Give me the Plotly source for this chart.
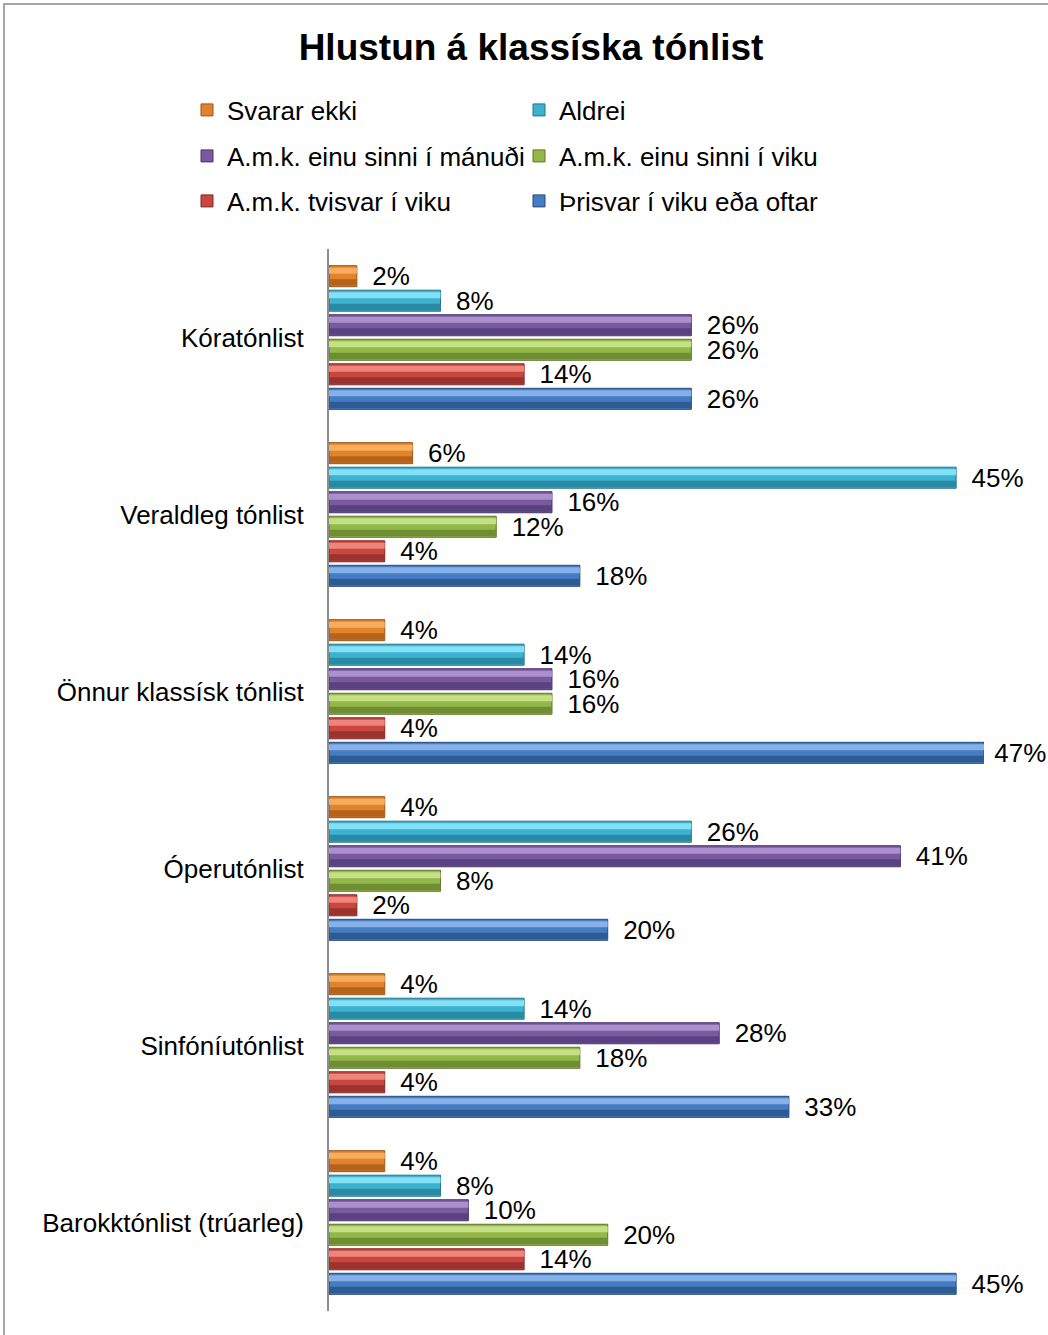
import plotly.graph_objects as go

categories = ["Kóratónlist", "Veraldleg tónlist", "Önnur klassísk tónlist",
              "Óperutónlist", "Sinfóníutónlist", "Barokktónlist (trúarleg)"]
series_names = ["Svarar ekki", "Aldrei", "A.m.k. einu sinni í mánuði",
                "A.m.k. einu sinni í viku", "A.m.k. tvisvar í viku", "Þrisvar í viku eða oftar"]
svarar_ekki = [2, 6, 4, 4, 4, 4]
aldrei = [8, 45, 14, 26, 14, 8]
manudi = [26, 16, 16, 41, 28, 10]
viku = [26, 12, 16, 8, 18, 20]
tvisvar = [14, 4, 4, 2, 4, 14]
thrisvar = [26, 18, 47, 20, 33, 45]
values = [svarar_ekki, aldrei, manudi, viku, tvisvar, thrisvar]

base_colors = ["#E2822A", "#3DB2D0", "#7A5A9E", "#93B84A", "#C9473F", "#467DC2"]
light_colors = ["#F6AE5E", "#84E0F5", "#AC90CE", "#C4DF84", "#EE857C", "#86B0E8"]
dark_colors = ["#B4631C", "#2A8AA3", "#5A4180", "#6F8D33", "#9A322D", "#2E5B94"]
line_colors = ["#9A5518", "#237589", "#48346A", "#5B752A", "#7E2925", "#254B7C"]
legend_ids = ["legend", "legend", "legend2", "legend2", "legend3", "legend3"]

FONT = "Liberation Sans, Arial, sans-serif"
band_px = 176.8
pitch = 24.5 / band_px
bw = 21.0 / band_px
start = -3 * pitch + (pitch - bw) / 2
x_max = 47

def label(v):
    # labels sit ~15px past the bar end; the longest bar's label is tucked in to fit
    pad = "\u00a0" if v >= x_max else "\u00a0\u2009"
    return f"{pad}{v}%"

fig = go.Figure()
for i, (name, vals) in enumerate(zip(series_names, values)):
    off = start + i * pitch
    fig.add_trace(go.Bar(
        y=categories, x=vals, orientation="h", name=name,
        offset=off, width=bw,
        marker=dict(color=base_colors[i], line=dict(color=line_colors[i], width=1)),
        text=[label(v) for v in vals], texttemplate="%{text}", textposition="outside",
        constraintext="none", cliponaxis=False,
        textfont=dict(family=FONT, size=26, color="#000000"),
        legend=legend_ids[i], showlegend=True,
    ))
    # bevel highlight (top) and shade (bottom) drawn from the same data
    fig.add_trace(go.Bar(
        y=categories, x=vals, orientation="h", name=name,
        offset=off + 2.0 / band_px, width=6.0 / band_px,
        marker=dict(color=light_colors[i], line=dict(width=0)),
        showlegend=False, hoverinfo="skip",
    ))
    fig.add_trace(go.Bar(
        y=categories, x=vals, orientation="h", name=name,
        offset=off + 13.5 / band_px, width=6.5 / band_px,
        marker=dict(color=dark_colors[i], line=dict(width=0)),
        showlegend=False, hoverinfo="skip",
    ))

W, H = 1048, 1335
ml, mr, mt, mb = 329, 64, 249, 24
pw, ph = W - ml - mr, H - mt - mb

def px_x(x):
    return (x - ml) / pw

def px_y(y):
    return (H - mb - y) / ph

legend_common = dict(
    orientation="h", xanchor="left", yanchor="middle",
    font=dict(family=FONT, size=26, color="#000000"),
    entrywidth=287, entrywidthmode="pixels",
    bgcolor="rgba(0,0,0,0)", itemclick=False, itemdoubleclick=False,
)

fig.update_layout(
    width=W, height=H,
    margin=dict(l=ml, r=mr, t=mt, b=mb),
    paper_bgcolor="white", plot_bgcolor="white",
    barmode="overlay",
    title=dict(text="<b>Hlustun á klassíska tónlist</b>", xref="container", yref="container",
               x=531 / W, y=1 - 47 / H, xanchor="center", yanchor="middle",
               font=dict(family=FONT, size=37, color="#000000")),
    xaxis=dict(range=[0, x_max], showgrid=False, zeroline=False, showticklabels=False,
               showline=False, ticks=""),
    yaxis=dict(autorange="reversed", showgrid=False, zeroline=False, showline=True,
               linecolor="#8C8C8C", linewidth=2, ticks="", ticklabelstandoff=18,
               tickfont=dict(family=FONT, size=26, color="#000000")),
    legend=dict(x=px_x(187), y=px_y(110), **legend_common),
    legend2=dict(x=px_x(187), y=px_y(156), **legend_common),
    legend3=dict(x=px_x(187), y=px_y(201), **legend_common),
    shapes=[dict(type="rect", xref="paper", yref="paper", layer="below",
                 x0=px_x(4), x1=px_x(1070), y0=px_y(1360), y1=px_y(4),
                 line=dict(color="#8A8A8A", width=1.5), fillcolor="rgba(0,0,0,0)")],
    showlegend=True,
)

fig.write_html("out.html", config={"displayModeBar": False},
               post_script="document.body.style.margin='0px';document.body.style.overflow='hidden';")
